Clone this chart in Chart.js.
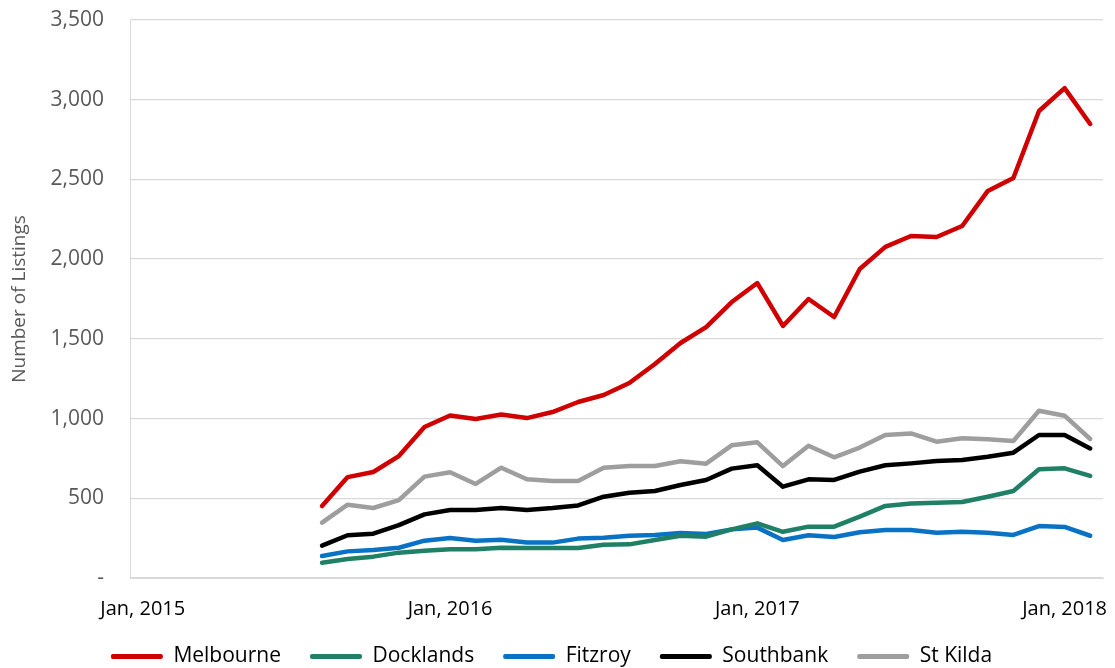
<!DOCTYPE html>
<html>
<head>
<meta charset="utf-8">
<script src="https://cdn.jsdelivr.net/npm/chart.js@4"></script>
<style>
  html, body { margin: 0; padding: 0; background: #fff; }
</style>
</head>
<body>
<canvas id="listingsChart" width="1115" height="668"></canvas>
<script>
// monthly categories, Jan 2015 .. Feb 2018
const months = [
  "Jan, 2015", "Feb, 2015", "Mar, 2015", "Apr, 2015", "May, 2015", "Jun, 2015",
  "Jul, 2015", "Aug, 2015", "Sep, 2015", "Oct, 2015", "Nov, 2015", "Dec, 2015",
  "Jan, 2016", "Feb, 2016", "Mar, 2016", "Apr, 2016", "May, 2016", "Jun, 2016",
  "Jul, 2016", "Aug, 2016", "Sep, 2016", "Oct, 2016", "Nov, 2016", "Dec, 2016",
  "Jan, 2017", "Feb, 2017", "Mar, 2017", "Apr, 2017", "May, 2017", "Jun, 2017",
  "Jul, 2017", "Aug, 2017", "Sep, 2017", "Oct, 2017", "Nov, 2017", "Dec, 2017",
  "Jan, 2018", "Feb, 2018"
];

// no listings data before Aug 2015
const noData = [null, null, null, null, null, null, null];

const melbourne = [451, 633, 665, 765, 947, 1019, 997, 1025, 1003, 1041, 1104, 1148, 1223, 1342, 1474, 1574,
  1731, 1850, 1581, 1750, 1637, 1938, 2077, 2145, 2139, 2208, 2428, 2509, 2929, 3073, 2848];
const docklands = [96, 119, 134, 159, 171, 180, 180, 190, 188, 188, 188, 209, 211, 238, 265, 259,
  305, 343, 290, 322, 322, 385, 452, 468, 472, 477, 510, 546, 682, 688, 640];
const fitzroy = [138, 167, 176, 190, 234, 251, 234, 240, 222, 222, 247, 253, 265, 270, 282, 276,
  305, 316, 238, 268, 257, 287, 301, 301, 284, 290, 284, 270, 326, 320, 265];
const southbank = [203, 268, 278, 332, 399, 427, 427, 439, 427, 439, 455, 510, 535, 546, 583, 615,
  686, 707, 573, 619, 615, 667, 707, 719, 734, 740, 761, 786, 897, 897, 813];
const stKilda = [347, 460, 439, 489, 636, 663, 590, 692, 619, 608, 608, 692, 702, 702, 732, 717,
  832, 851, 702, 830, 757, 818, 897, 907, 855, 876, 870, 859, 1049, 1018, 872];

const series = [
  { name: "Melbourne", values: melbourne, color: "#d00000" },
  { name: "Docklands", values: docklands, color: "#1f8066" },
  { name: "Fitzroy", values: fitzroy, color: "#0a72c4" },
  { name: "Southbank", values: southbank, color: "#000000" },
  { name: "St Kilda", values: stKilda, color: "#9e9e9e" }
];

const FONT = "'Open Sans', 'Liberation Sans', sans-serif";
const GRID = "#d9d9d9";

// keep the wide gaps between legend items but pull the row up under the axis labels
const legendTrim = {
  id: "legendTrim",
  beforeInit(chart) {
    const legend = chart.legend;
    const fit = legend.fit;
    const draw = legend.draw;
    legend.fit = function () {
      fit.call(this);
      this.height = 45;
    };
    legend.draw = function () {
      this.top -= 6;
      draw.call(this);
      this.top += 6;
    };
  }
};

const ctx = document.getElementById("listingsChart").getContext("2d");

new Chart(ctx, {
  type: "line",
  data: {
    labels: months,
    datasets: series.map(s => ({
      label: s.name,
      data: noData.concat(s.values),
      borderColor: s.color,
      backgroundColor: s.color,
      borderWidth: 4.5,
      pointRadius: 0,
      tension: 0,
      borderJoinStyle: "round",
      borderCapStyle: "round"
    }))
  },
  plugins: [legendTrim],
  options: {
    responsive: false,
    animation: false,
    devicePixelRatio: 1,
    layout: { padding: { top: 0, right: 12, bottom: 0, left: 0 } },
    plugins: {
      tooltip: { enabled: false },
      legend: {
        position: "bottom",
        labels: {
          boxWidth: 52,
          boxHeight: 5,
          padding: 29,
          color: "#000",
          font: { family: FONT, size: 21 },
          // plain line swatches, no outline
          generateLabels: chart => Chart.defaults.plugins.legend.labels.generateLabels(chart)
            .map(item => ({ ...item, lineWidth: 0, borderRadius: 2 }))
        }
      }
    },
    scales: {
      x: {
        type: "category",
        offset: true,
        afterFit: scale => { scale.height = 45; },
        grid: { display: false },
        border: { display: true, color: GRID },
        ticks: {
          autoSkip: false,
          maxRotation: 0,
          padding: 11,
          color: "#000",
          font: { family: FONT, size: 20 },
          callback: (val, i) => months[i].startsWith("Jan") ? months[i] : ""
        }
      },
      y: {
        min: 0,
        max: 3500,
        afterFit: scale => {
          scale.width = 130;
          scale.paddingTop = 20;
          scale.paddingBottom = 10;
        },
        grid: { color: GRID, lineWidth: 1.3, drawTicks: false },
        border: { display: true, color: GRID },
        title: {
          display: true,
          text: "Number of Listings",
          color: "#595959",
          padding: { top: 8, bottom: 0 },
          font: { family: FONT, size: 19 }
        },
        ticks: {
          stepSize: 500,
          padding: 26,
          color: "#595959",
          font: { family: FONT, size: 21 },
          callback: v => v === 0 ? "-" : v.toLocaleString("en-US")
        }
      }
    }
  }
});
</script>
</body>
</html>
